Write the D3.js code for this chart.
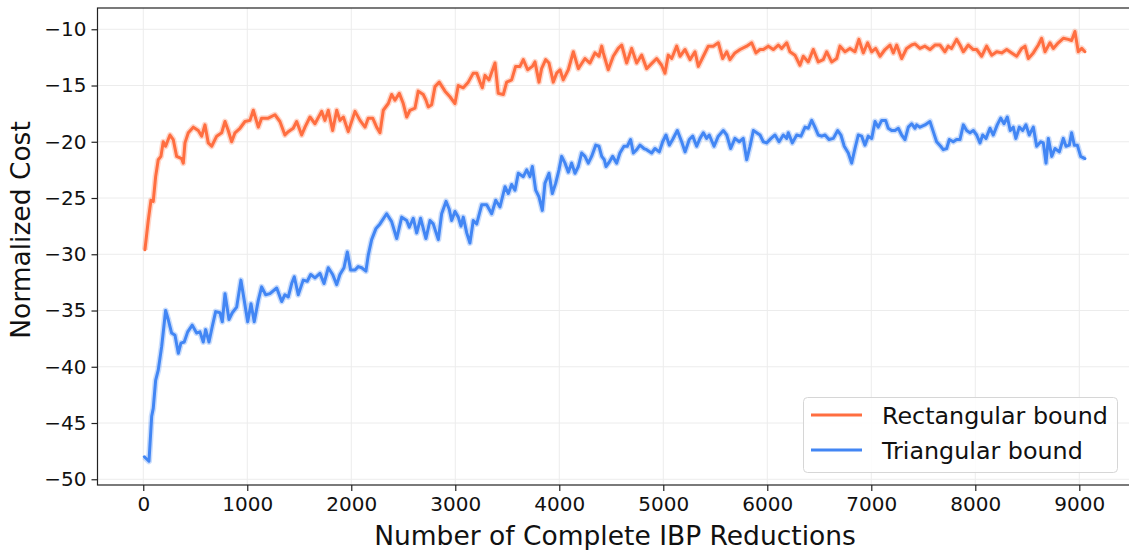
<!DOCTYPE html>
<html>
<head>
<meta charset="utf-8">
<script src="https://cdn.jsdelivr.net/npm/d3@7/dist/d3.min.js"></script>
<style>
  html, body { margin: 0; padding: 0; background: #fff; }
  svg { display: block; font-family: "DejaVu Sans", sans-serif; }
</style>
</head>
<body>
<svg id="chart" width="1129" height="550"></svg>
<script>
// Rectangular bound: reductions completed vs normalized cost
const rectSteps = [16,48,74,96,119,144,170,192,215,240,257,288,321,369,385,401,433,481,529,562,593,625,658,706,754,786,817,850,882,930,978,1026,1058,1106,1138,1202,1266,1314,1362,1394,1442,1475,1523,1555,1603,1651,1715,1747,1779,1821,1860,1891,1924,1971,2036,2084,2132,2163,2206,2244,2276,2308,2356,2388,2420,2462,2500,2533,2564,2613,2644,2692,2718,2740,2773,2805,2846,2901,2949,2997,3029,3077,3125,3173,3206,3238,3260,3286,3324,3382,3413,3462,3494,3542,3580,3622,3654,3696,3741,3766,3805,3830,3869,3901,3942,3975,4007,4038,4087,4135,4183,4247,4295,4343,4382,4408,4423,4471,4519,4567,4600,4648,4696,4744,4792,4840,4904,4936,4984,5016,5048,5081,5129,5161,5209,5257,5305,5337,5385,5433,5481,5529,5571,5610,5641,5689,5738,5802,5850,5891,5930,5962,6010,6058,6106,6138,6187,6218,6266,6314,6346,6394,6442,6490,6538,6571,6619,6667,6699,6747,6795,6843,6881,6923,6965,7004,7042,7084,7132,7180,7212,7244,7292,7340,7388,7420,7468,7516,7564,7612,7660,7708,7740,7772,7820,7853,7885,7933,7981,8013,8061,8109,8158,8206,8254,8302,8350,8398,8446,8478,8510,8558,8606,8638,8670,8718,8750,8798,8846,8894,8926,8958,8990,9023,9054];
const rectCost = [-29.6,-27.0,-25.2,-25.3,-23.1,-21.6,-21.3,-20.0,-20.4,-19.8,-19.4,-19.8,-21.3,-21.5,-21.9,-20.1,-19.2,-18.7,-19.0,-19.5,-18.5,-20.1,-20.4,-19.5,-19.2,-18.2,-19.0,-20.0,-19.2,-18.8,-18.2,-18.1,-17.2,-18.7,-17.9,-17.9,-17.6,-18.2,-19.4,-19.1,-18.8,-18.2,-19.4,-18.7,-17.8,-18.4,-17.3,-18.1,-17.2,-19.0,-17.2,-18.1,-17.8,-19.1,-17.3,-18.1,-18.7,-17.9,-17.9,-18.7,-19.2,-17.2,-16.6,-15.8,-16.3,-15.7,-16.6,-17.8,-17.2,-17.0,-15.5,-15.8,-16.3,-16.9,-16.7,-15.1,-14.7,-15.5,-16.0,-16.6,-15.0,-15.2,-14.7,-13.9,-13.9,-14.7,-15.2,-14.1,-14.5,-13.0,-15.7,-15.8,-14.7,-14.5,-13.3,-13.3,-12.7,-13.6,-13.3,-12.9,-14.7,-13.5,-12.7,-13.0,-14.7,-13.9,-13.6,-14.5,-13.6,-12.0,-13.5,-12.6,-13.0,-12.1,-12.4,-11.5,-12.1,-13.6,-12.4,-11.7,-11.4,-13.0,-11.7,-13.0,-12.3,-13.5,-12.9,-12.6,-13.2,-13.9,-12.3,-12.6,-11.5,-12.4,-11.8,-12.7,-12.0,-13.3,-12.4,-11.5,-11.5,-11.2,-12.6,-12.0,-12.7,-12.1,-11.8,-11.5,-11.2,-12.1,-11.8,-11.8,-11.5,-11.8,-11.4,-11.7,-11.2,-12.0,-12.3,-13.2,-12.4,-12.9,-11.8,-12.9,-12.7,-12.0,-12.9,-12.6,-11.5,-12.0,-11.7,-12.0,-10.9,-12.1,-11.2,-12.0,-11.7,-12.4,-11.8,-11.4,-12.1,-11.4,-12.6,-11.7,-11.4,-11.3,-11.7,-11.5,-11.8,-11.4,-11.4,-12.0,-11.5,-11.7,-10.9,-11.4,-12.0,-11.4,-11.8,-11.8,-12.4,-11.5,-12.3,-12.0,-12.1,-11.8,-12.1,-12.4,-11.7,-11.5,-12.6,-12.1,-11.4,-10.8,-12.0,-11.2,-11.7,-11.2,-10.8,-10.9,-11.0,-10.2,-12.0,-11.7,-12.0];

// Triangular bound
const triSteps = [10,55,81,96,119,144,177,215,240,273,305,337,362,394,427,471,513,545,577,600,632,664,696,738,760,786,824,856,898,939,971,1004,1036,1067,1106,1138,1177,1218,1283,1331,1362,1394,1427,1452,1490,1538,1577,1610,1651,1699,1738,1779,1821,1860,1891,1930,1962,1994,2036,2067,2100,2141,2163,2196,2238,2276,2340,2388,2437,2485,2533,2558,2596,2629,2667,2718,2757,2788,2837,2869,2911,2942,2965,2997,3029,3055,3077,3110,3141,3173,3206,3254,3302,3350,3389,3430,3478,3510,3542,3574,3606,3654,3687,3718,3741,3773,3805,3837,3862,3901,3933,3965,3997,4023,4055,4087,4119,4151,4183,4215,4247,4279,4311,4350,4382,4408,4433,4449,4481,4513,4552,4583,4622,4654,4686,4712,4744,4776,4814,4840,4888,4920,4962,4994,5026,5058,5090,5135,5177,5209,5250,5283,5321,5353,5385,5417,5442,5488,5529,5577,5610,5648,5689,5731,5769,5802,5834,5866,5898,5930,5962,5994,6036,6074,6113,6154,6187,6202,6241,6283,6324,6363,6394,6427,6458,6490,6523,6555,6593,6635,6677,6708,6740,6779,6811,6843,6875,6907,6939,6971,7004,7036,7067,7100,7138,7163,7196,7228,7260,7292,7324,7356,7388,7420,7436,7468,7516,7564,7596,7628,7667,7692,7725,7750,7788,7820,7853,7885,7917,7949,7981,8013,8045,8071,8103,8141,8173,8211,8244,8276,8308,8336,8365,8390,8423,8455,8487,8519,8558,8590,8629,8654,8680,8702,8735,8766,8808,8846,8872,8904,8926,8952,8981,9013,9054];
const triCost = [-48.0,-48.4,-44.4,-43.7,-41.2,-40.3,-38.2,-35.0,-35.8,-37.0,-37.2,-38.8,-37.9,-37.8,-36.9,-36.3,-37.0,-36.9,-37.8,-36.7,-37.8,-36.4,-35.1,-35.2,-36.0,-33.5,-35.8,-35.2,-34.7,-32.3,-34.1,-36.0,-34.4,-36.0,-34.1,-32.9,-33.6,-33.5,-33.0,-34.2,-33.6,-33.8,-32.6,-32.0,-33.6,-32.3,-32.4,-31.8,-32.1,-31.7,-32.6,-31.2,-31.8,-32.7,-31.8,-31.2,-29.8,-31.4,-31.4,-31.1,-31.2,-31.5,-30.1,-28.7,-27.7,-27.3,-26.4,-27.1,-28.6,-26.7,-27.0,-27.6,-26.8,-28.1,-26.8,-28.6,-27.0,-27.3,-28.7,-26.4,-25.3,-26.0,-27.0,-26.2,-26.7,-27.5,-26.7,-28.1,-29.0,-27.0,-27.3,-25.6,-25.6,-26.4,-25.2,-25.8,-24.0,-24.6,-23.8,-24.3,-22.8,-23.1,-22.5,-23.1,-22.2,-24.3,-24.9,-26.1,-23.7,-22.8,-24.6,-23.7,-22.5,-21.3,-21.9,-22.7,-21.9,-22.8,-22.2,-21.0,-21.3,-21.9,-21.3,-20.3,-20.4,-21.3,-21.6,-22.2,-21.8,-21.3,-21.9,-21.0,-20.4,-20.4,-19.8,-21.0,-20.7,-20.3,-20.6,-20.7,-21.0,-20.6,-20.9,-20.0,-19.4,-20.3,-19.8,-19.0,-20.0,-20.9,-19.8,-19.5,-20.4,-19.7,-19.2,-19.7,-19.4,-20.4,-19.5,-19.0,-19.4,-20.6,-19.7,-20.0,-19.7,-21.6,-20.4,-19.0,-19.2,-19.4,-20.0,-20.1,-19.7,-19.4,-20.0,-19.4,-19.7,-19.2,-20.1,-19.4,-19.5,-18.7,-18.8,-18.1,-18.7,-19.4,-19.5,-19.4,-19.8,-19.7,-19.0,-19.4,-20.4,-21.0,-21.9,-20.6,-19.4,-19.5,-20.3,-19.5,-19.7,-18.2,-18.7,-18.1,-18.1,-18.8,-19.0,-19.0,-18.8,-19.4,-19.8,-18.7,-18.4,-18.8,-18.5,-18.7,-18.5,-18.2,-19.1,-20.0,-20.4,-20.7,-20.6,-19.8,-20.0,-19.8,-19.8,-18.5,-19.0,-19.2,-19.0,-19.4,-20.1,-19.4,-19.7,-18.8,-19.4,-18.5,-17.9,-18.4,-17.8,-19.0,-18.7,-19.7,-18.7,-19.0,-18.5,-19.4,-18.7,-20.4,-20.0,-20.1,-21.9,-19.7,-21.3,-20.6,-20.9,-19.7,-20.4,-20.3,-19.2,-20.3,-20.3,-21.3,-21.5];

const xTicks = [0,1000,2000,3000,4000,5000,6000,7000,8000,9000];
const yTicks = [-50,-45,-40,-35,-30,-25,-20,-15,-10];
const seriesNames = ["Rectangular bound", "Triangular bound"];
const seriesColors = ["#ff6e40", "#4286f4"];

const svg = d3.select("#chart");
const plotLeft = 97.5, plotRight = 1131.3, plotTop = 8, plotBottom = 485;

const x = d3.scaleLinear().domain([-440, 9500]).range([plotLeft, plotRight]);
const y = d3.scaleLinear().domain([-50.51, -8.11]).range([plotBottom, plotTop]);

// grid
const grid = svg.append("g");
grid.selectAll(".gx").data(xTicks).join("line")
  .attr("x1", d => x(d)).attr("x2", d => x(d))
  .attr("y1", plotTop).attr("y2", plotBottom)
  .attr("stroke", "#ececec").attr("stroke-width", 1);
grid.selectAll(".gy").data(yTicks).join("line")
  .attr("x1", plotLeft).attr("x2", plotRight)
  .attr("y1", d => y(d)).attr("y2", d => y(d))
  .attr("stroke", "#ececec").attr("stroke-width", 1);

const series = [
  { steps: rectSteps, cost: rectCost, color: seriesColors[0] },
  { steps: triSteps, cost: triCost, color: seriesColors[1] }
];

const line = d3.line().x(d => x(d[0])).y(d => y(d[1]));

const plot = svg.append("g");
series.forEach(s => {
  const n = Math.min(s.steps.length, s.cost.length);
  const pts = d3.range(n).map(i => [s.steps[i], s.cost[i]]);
  // faint spread behind the main trace
  plot.append("path").datum(pts)
    .attr("d", line).attr("fill", "none")
    .attr("stroke", s.color).attr("stroke-opacity", 0.28)
    .attr("stroke-width", 6).attr("stroke-linejoin", "round");
  plot.append("path").datum(pts)
    .attr("d", line).attr("fill", "none")
    .attr("stroke", s.color).attr("stroke-width", 3)
    .attr("stroke-linejoin", "round").attr("stroke-linecap", "round");
});

// axes
const xAxis = svg.append("g").attr("transform", `translate(0,${plotBottom})`)
  .call(d3.axisBottom(x).tickValues(xTicks).tickSize(6).tickPadding(6).tickFormat(d3.format("d")));
const yAxis = svg.append("g").attr("transform", `translate(${plotLeft},0)`)
  .call(d3.axisLeft(y).tickValues(yTicks).tickSize(6).tickPadding(5).tickFormat(d => "\u2212" + Math.abs(d)));
[xAxis, yAxis].forEach(a => {
  a.select(".domain").remove();
  a.selectAll(".tick line").attr("stroke", "#222").attr("stroke-width", 1.2);
  a.selectAll(".tick text").attr("fill", "#111").style("font-size", "20px").style("font-family", "DejaVu Sans");
});

// frame
svg.append("rect").attr("x", plotLeft).attr("y", plotTop)
  .attr("width", plotRight - plotLeft).attr("height", plotBottom - plotTop)
  .attr("fill", "none").attr("stroke", "#222").attr("stroke-width", 1.2);

// axis titles
svg.append("text").attr("x", 615).attr("y", 545)
  .attr("text-anchor", "middle").style("font-size", "26.5px").attr("fill", "#111")
  .text("Number of Complete IBP Reductions");
svg.append("text").attr("transform", "translate(30,230) rotate(-90)")
  .attr("text-anchor", "middle").style("font-size", "26.5px").attr("fill", "#111")
  .text("Normalized Cost");

// legend
const lg = svg.append("g");
lg.append("rect").attr("x", 803.5).attr("y", 397.5).attr("width", 314).attr("height", 75)
  .attr("rx", 4).attr("fill", "#fff").attr("fill-opacity", 0.85)
  .attr("stroke", "#d6d6d6").attr("stroke-width", 1);
seriesNames.forEach((name, i) => {
  const cy = 415 + i * 35;
  lg.append("line").attr("x1", 811).attr("x2", 862).attr("y1", cy).attr("y2", cy)
    .attr("stroke", seriesColors[i]).attr("stroke-width", 3);
  lg.append("text").attr("x", 882).attr("y", cy + 8.5)
    .style("font-size", "23.8px").attr("fill", "#111").text(name);
});
</script>
</body>
</html>
